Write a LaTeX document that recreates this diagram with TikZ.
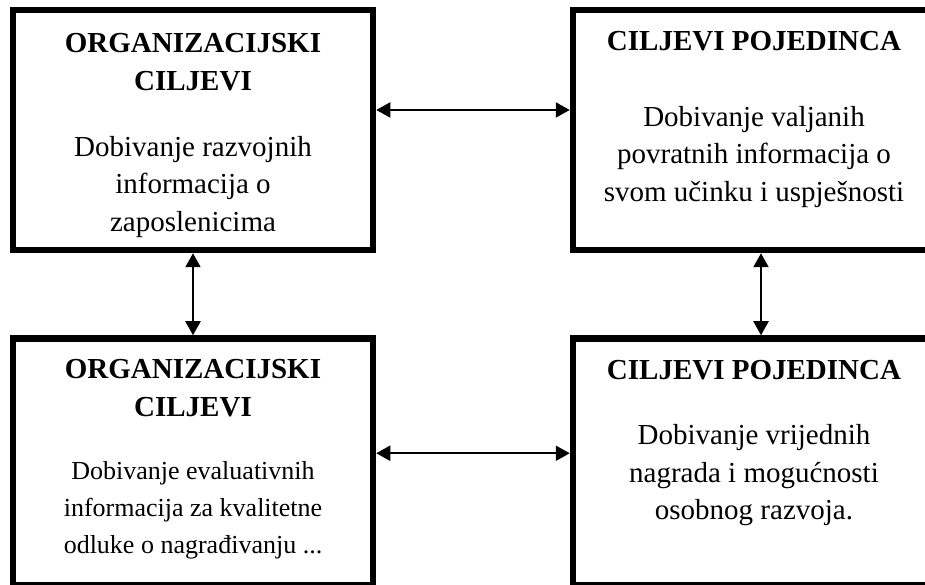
\documentclass[tikz,border=0pt]{standalone}
\usepackage{fontspec}
\setmainfont{Liberation Serif}
\usetikzlibrary{arrows.meta}
\tikzset
{
  okvir/.style={draw,line width=6.5pt,minimum width=360pt,inner sep=0pt},
  naslov/.style={anchor=base,align=center,inner sep=0pt,font=\fontsize{29}{38.5}\selectfont\bfseries},
  opis/.style={anchor=base,align=center,inner sep=0pt,font=\fontsize{29}{37.8}\selectfont},
  strelica/.style={line width=2pt,{Triangle[length=14pt,width=15pt]}-{Triangle[length=14pt,width=15pt]}}
}
\begin{document}
\begin{tikzpicture}[x=1pt,y=1pt]
  \useasboundingbox (0,0) rectangle (925,585);
  \clip (0,0) rectangle (925,585);
  % okviri
  \node[okvir,minimum height=240pt] (orgA) at (193,455) {};
  \node[okvir,minimum width=362pt,minimum height=240pt] (pojA) at (754,455) {};
  \node[okvir,minimum height=246.5pt] (orgB) at (193,123.25) {};
  \node[okvir,minimum width=362pt,minimum height=246.5pt] (pojB) at (754,123.25) {};
  % tekst gore (base = zadnji redak)
  \node[naslov] (orgAnaslov) at (193,494.3) {ORGANIZACIJSKI\\CILJEVI};
  \node[opis]   (orgAopis)   at (193,353.3) {Dobivanje razvojnih\\informacija o\\zaposlenicima};
  \node[naslov] (pojAnaslov) at (754,534) {CILJEVI POJEDINCA};
  \node[opis]   (pojAopis)   at (754,383.3) {Dobivanje valjanih\\povratnih informacija o\\svom učinku i uspješnosti};
  % tekst dolje
  \node[naslov] (orgBnaslov) at (193,168.3) {ORGANIZACIJSKI\\CILJEVI};
  \node[opis,font=\fontsize{26}{36.7}\selectfont] (orgBopis) at (193,31.7) {Dobivanje evaluativnih\\informacija za kvalitetne\\odluke o nagrađivanju ...};
  \node[naslov] (pojBnaslov) at (754,205) {CILJEVI POJEDINCA};
  \node[opis]   (pojBopis)   at (754,65) {Dobivanje vrijednih\\nagrada i mogućnosti\\osobnog razvoja.};
  % strelice
  \draw[strelica] ([yshift=20pt]orgA.east) -- ([yshift=20pt]pojA.west);
  \draw[strelica] ([yshift=8.5pt]orgB.east) -- ([yshift=8.5pt]pojB.west);
  \draw[strelica] (orgA.south) -- (orgB.north);
  \draw[strelica] ([xshift=7pt]pojA.south) -- ([xshift=7pt]pojB.north);
\end{tikzpicture}
\end{document}
